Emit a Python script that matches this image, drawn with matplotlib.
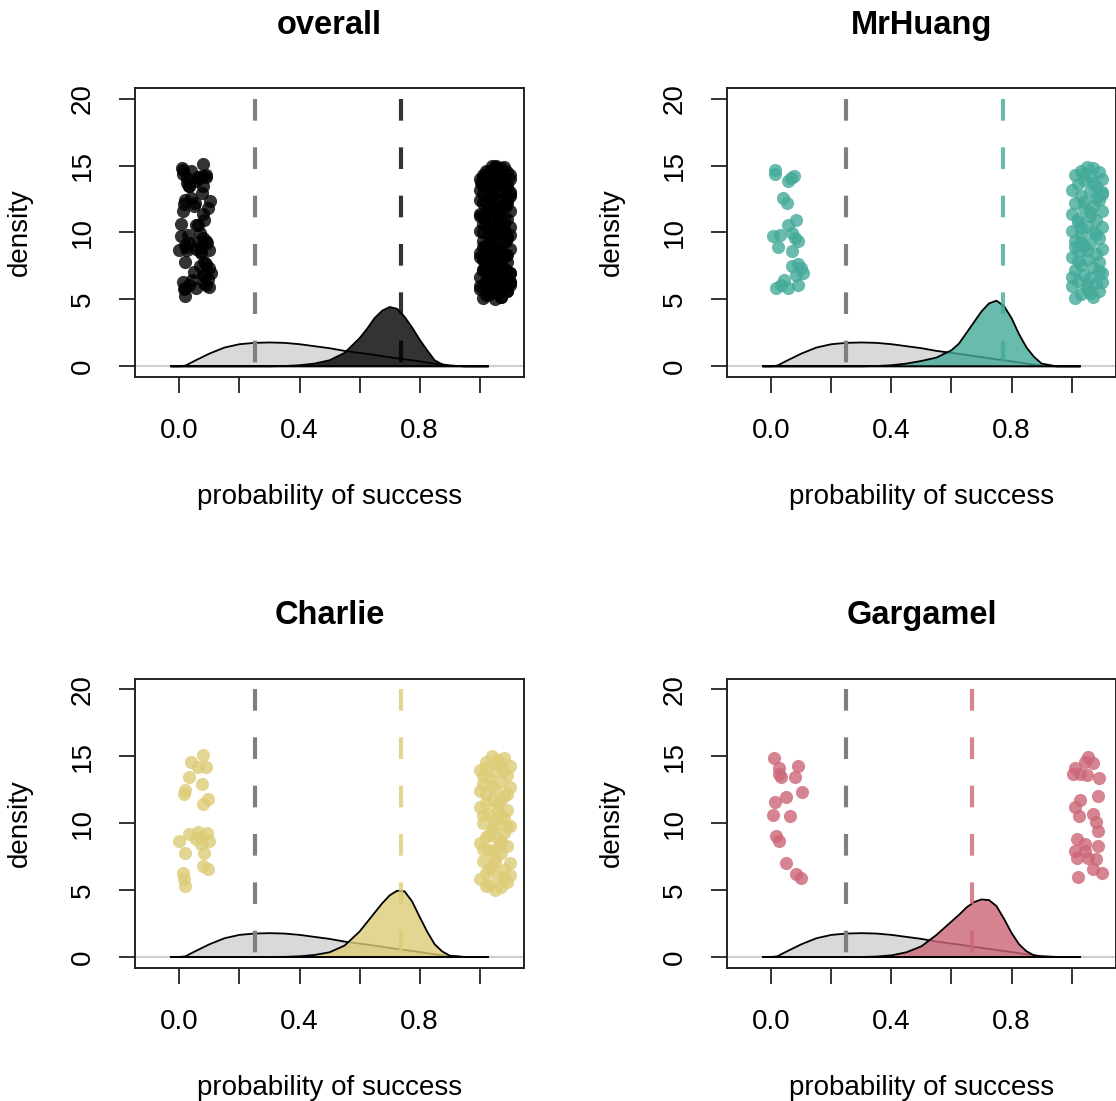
import matplotlib.pyplot as plt

plt.rcParams['font.family'] = ['Liberation Sans', 'DejaVu Sans']

# density curves
prior_x = [-0.03, 0.0, 0.02, 0.05, 0.1, 0.15, 0.2, 0.25, 0.3, 0.35, 0.4, 0.45,
           0.5, 0.55, 0.6, 0.65, 0.7, 0.75, 0.8, 0.85, 0.9, 0.95, 1.0, 1.03]
prior_y = [0, 0, 0.05, 0.4, 0.95, 1.4, 1.65, 1.75, 1.78, 1.75, 1.65, 1.5,
           1.35, 1.15, 1.0, 0.85, 0.68, 0.52, 0.37, 0.2, 0.05, 0, 0, 0]

post_x = [-0.03, 0.3, 0.35, 0.4, 0.45, 0.5, 0.55, 0.6, 0.625, 0.65, 0.675, 0.7,
          0.725, 0.75, 0.775, 0.8, 0.825, 0.85, 0.875, 0.9, 0.95, 1.03]
post_overall = [0, 0, 0.02, 0.08, 0.2, 0.45, 1.0, 2.1, 2.8, 3.6, 4.15, 4.43,
                4.3, 3.7, 2.9, 2.0, 1.2, 0.45, 0.15, 0.05, 0, 0]
post_mrhuang = [0, 0, 0.02, 0.08, 0.2, 0.4, 0.65, 1.2, 1.7, 2.5, 3.3, 4.1,
                4.7, 4.9, 4.5, 3.6, 2.4, 1.4, 0.7, 0.2, 0, 0]
post_charlie = [0, 0, 0.01, 0.05, 0.15, 0.35, 0.85, 1.9, 2.6, 3.3, 4.0, 4.6,
                4.95, 4.9, 4.15, 3.0, 1.9, 0.95, 0.42, 0.1, 0, 0]
post_gargamel = [0, 0, 0.03, 0.12, 0.35, 0.8, 1.65, 2.65, 3.15, 3.7, 4.1, 4.3,
                 4.25, 3.8, 2.85, 1.8, 0.95, 0.42, 0.12, 0.03, 0, 0]

prior_mean = 0.25
post_means = {'overall': 0.739, 'MrHuang': 0.772, 'Charlie': 0.739, 'Gargamel': 0.669}

# jittered outcomes (failures near 0, successes near 1)
mrhuang_fail_x = [0.013, 0.013, 0.064, 0.055, 0.075, 0.039, 0.053, 0.083, 0.055, 0.005,
                  0.028, 0.069, 0.078, 0.089, 0.022, 0.069, 0.067, 0.089, 0.098, 0.105,
                  0.083, 0.042, 0.017, 0.055, 0.089, 0.033]
mrhuang_fail_y = [14.68, 14.36, 14.06, 13.86, 14.25, 12.57, 12.19, 10.95, 10.57, 9.70,
                  9.83, 9.95, 9.58, 9.38, 8.88, 8.63, 7.46, 7.64, 7.34, 6.97,
                  6.84, 6.47, 5.85, 5.85, 6.10, 6.10]
mrhuang_succ_x = [1.05, 1.07, 1.03, 1.09, 1.01, 1.06, 1.10, 1.04, 1.02, 1.08,
                  1.00, 1.06, 1.10, 1.03, 1.09, 1.01, 1.07, 1.04, 1.10, 1.00,
                  1.06, 1.08, 1.02, 1.05, 1.10, 1.00, 1.07, 1.03, 1.09, 1.01,
                  1.06, 1.04, 1.10, 1.02, 1.08, 1.00, 1.05, 1.09, 1.03, 1.07,
                  1.01, 1.10, 1.04, 1.06, 1.02, 1.08, 1.00, 1.05, 1.09, 1.03,
                  1.07, 1.01, 1.04, 1.07, 1.02, 1.08, 1.05, 1.09, 1.06, 1.03,
                  1.01, 1.10, 1.04, 1.06, 1.02, 1.08, 1.05, 1.03, 1.10, 1.00]
mrhuang_succ_y = [14.9, 14.8, 14.6, 14.5, 14.3, 14.2, 14.0, 13.9, 13.6, 13.5,
                  13.2, 13.1, 12.9, 12.7, 12.4, 12.2, 12.0, 11.8, 11.6, 11.4,
                  11.2, 10.9, 10.8, 10.5, 10.4, 10.1, 10.0, 9.8, 9.6, 9.4,
                  9.2, 9.0, 8.8, 8.6, 8.4, 8.2, 8.0, 7.8, 7.6, 7.4,
                  7.2, 7.0, 6.8, 6.6, 6.4, 6.2, 6.0, 5.8, 5.6, 5.4,
                  5.2, 5.1, 12.3, 13.7, 11.0, 9.9, 8.7, 7.1, 5.5, 10.3,
                  8.9, 6.3, 14.4, 11.5, 7.9, 12.6, 6.1, 9.3, 13.0, 6.7]

charlie_fail_x = [0.078, 0.039, 0.061, 0.089, 0.033, 0.074, 0.017, 0.014, 0.094, 0.078,
                  0.000, 0.033, 0.061, 0.092, 0.100, 0.072, 0.017, 0.083, 0.078, 0.094,
                  0.011, 0.014, 0.017, 0.056, 0.072]
charlie_fail_y = [15.09, 14.60, 14.17, 14.17, 13.46, 12.96, 12.45, 12.15, 11.83, 11.40,
                  8.68, 9.18, 9.31, 9.23, 8.68, 8.43, 7.80, 7.80, 6.79, 6.54,
                  6.29, 5.79, 5.28, 8.80, 8.93]
charlie_succ_x = [1.04, 1.08, 1.02, 1.06, 1.10, 1.00, 1.05, 1.09, 1.03, 1.07,
                  1.01, 1.10, 1.05, 1.02, 1.08, 1.04, 1.06, 1.00, 1.09, 1.03,
                  1.07, 1.05, 1.01, 1.10, 1.04, 1.08, 1.02, 1.06, 1.00, 1.09,
                  1.03, 1.07, 1.05, 1.01, 1.10, 1.04, 1.08, 1.02, 1.06, 1.00,
                  1.09, 1.03, 1.07, 1.05, 1.01, 1.08, 1.04, 1.02, 1.06, 1.09,
                  1.03, 1.07, 1.01, 1.05, 1.10, 1.02, 1.06, 1.08, 1.04, 1.00,
                  1.07, 1.03, 1.09, 1.05, 1.02, 1.06, 1.08, 1.01]
charlie_succ_y = [15.0, 14.9, 14.6, 14.4, 14.3, 14.0, 13.8, 13.6, 13.3, 13.1,
                  12.9, 12.7, 12.5, 12.2, 12.0, 11.7, 11.4, 11.2, 11.0, 10.7,
                  10.5, 10.2, 10.0, 9.8, 9.5, 9.3, 9.0, 8.8, 8.5, 8.3,
                  8.0, 7.8, 7.5, 7.2, 7.0, 6.8, 6.5, 6.3, 6.0, 5.8,
                  5.6, 5.4, 5.2, 5.0, 13.5, 13.9, 12.8, 11.5, 10.9, 9.7,
                  9.1, 8.6, 8.1, 7.1, 6.1, 5.3, 14.7, 10.4, 7.9, 12.4,
                  11.8, 6.6, 12.2, 9.9, 14.1, 8.2, 5.9, 10.6]

gargamel_fail_x = [0.009, 0.024, 0.031, 0.089, 0.080, 0.102, 0.050, 0.013, 0.005, 0.061,
                   0.017, 0.024, 0.050, 0.083, 0.098, 0.026]
gargamel_fail_y = [14.85, 14.09, 13.46, 14.27, 13.46, 12.33, 11.95, 11.58, 10.64, 10.57,
                   9.06, 8.68, 7.05, 6.22, 5.92, 13.71]
gargamel_succ_x = [1.055, 1.044, 1.072, 1.011, 1.028, 1.050, 1.092, 1.089, 1.028, 1.011,
                   1.025, 1.072, 1.081, 1.089, 1.017, 1.044, 1.089, 1.011, 1.017, 1.055,
                   1.083, 1.072, 1.100, 1.022, 1.044, 1.006]
gargamel_succ_y = [14.97, 14.60, 14.47, 14.09, 13.71, 13.60, 13.34, 12.00, 11.70, 11.20,
                   10.57, 10.69, 10.07, 9.39, 8.81, 8.43, 8.30, 7.92, 7.42, 7.42,
                   7.30, 6.54, 6.29, 5.96, 7.92, 13.71]

overall_x = (mrhuang_fail_x + charlie_fail_x + gargamel_fail_x
             + mrhuang_succ_x + charlie_succ_x + gargamel_succ_x)
overall_y = (mrhuang_fail_y + charlie_fail_y + gargamel_fail_y
             + mrhuang_succ_y + charlie_succ_y + gargamel_succ_y)

panels = [
    ('overall', '#000000', post_overall, overall_x, overall_y),
    ('MrHuang', '#44AA99', post_mrhuang, mrhuang_fail_x + mrhuang_succ_x, mrhuang_fail_y + mrhuang_succ_y),
    ('Charlie', '#DDCC77', post_charlie, charlie_fail_x + charlie_succ_x, charlie_fail_y + charlie_succ_y),
    ('Gargamel', '#CC6677', post_gargamel, gargamel_fail_x + gargamel_succ_x, gargamel_fail_y + gargamel_succ_y),
]

positions = [[0.121, 0.6576, 0.3486, 0.2625], [0.6514, 0.6576, 0.3486, 0.2625],
             [0.121, 0.1211, 0.3486, 0.2625], [0.6514, 0.1211, 0.3486, 0.2625]]

fig = plt.figure(figsize=(11.16, 11.01), dpi=100)

for pos, (name, col, post, px, py) in zip(positions, panels):
    ax = fig.add_axes(pos)
    ax.axhline(0, color='#d0d0d0', lw=1.5, zorder=1)
    ax.fill(prior_x, prior_y, facecolor='#d9d9d9', edgecolor='black', lw=1.3, zorder=2)
    ax.fill(post_x, post, facecolor=col, alpha=0.8, edgecolor='none', zorder=3)
    ax.fill(post_x, post, facecolor='none', edgecolor='black', lw=1.3, zorder=3)
    ax.plot([prior_mean, prior_mean], [20, 0], color='#7f7f7f', lw=3.0,
            dashes=(5.2, 6.4), zorder=4)
    ax.plot([post_means[name]] * 2, [20, 0], color=col, alpha=0.8, lw=3.0,
            dashes=(5.2, 6.4), zorder=4)
    ax.scatter(px, py, s=90, color=col, alpha=0.8, linewidths=0, zorder=5)

    ax.set_xlim(-0.148, 1.148)
    ax.set_ylim(-0.8, 20.8)
    ax.set_xticks([0, 0.2, 0.4, 0.6, 0.8, 1.0])
    ax.set_xticklabels(['0.0', '', '0.4', '', '0.8', ''])
    ax.set_yticks([0, 5, 10, 15, 20])
    ax.set_yticklabels(['0', '5', '10', '15', '20'], rotation=90, va='center')
    ax.tick_params(length=11.5, width=1.4, labelsize=20, color='#333333')
    ax.tick_params(axis='x', pad=18)
    ax.tick_params(axis='y', pad=17)
    for sp in ax.spines.values():
        sp.set_linewidth(1.4)
        sp.set_color('#222222')
    ax.set_xlabel('probability of success', fontsize=20, labelpad=29)
    ax.set_ylabel('density', fontsize=20, labelpad=26)
    ax.set_title(name, fontsize=23.5, fontweight='bold', pad=39)

plt.savefig('out.png', dpi=100)
